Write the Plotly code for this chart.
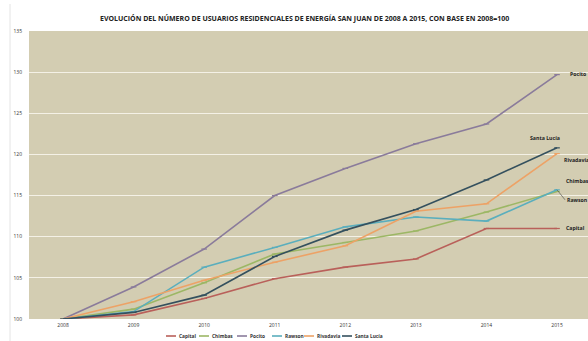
import plotly.graph_objects as go

years = ["2008", "2009", "2010", "2011", "2012", "2013", "2014", "2015"]
capital = [100, 100.5, 102.5, 104.9, 106.3, 107.3, 111.0, 111.0]
chimbas = [100, 101.2, 104.4, 107.9, 109.3, 110.7, 113.0, 115.5]
pocito = [100, 103.9, 108.5, 115.0, 118.3, 121.3, 123.7, 129.7]
rawson = [100, 100.9, 106.3, 108.7, 111.2, 112.4, 111.9, 115.7]
rivadavia = [100, 102.1, 104.7, 106.9, 108.9, 113.1, 114.0, 120.1]
santa_lucia = [100, 100.8, 102.9, 107.6, 110.8, 113.3, 116.9, 120.8]

names = ["Capital", "Chimbas", "Pocito", "Rawson", "Rivadavia", "Santa Lucía"]
series = [capital, chimbas, pocito, rawson, rivadavia, santa_lucia]
colors = ["#b9605a", "#9cb765", "#8a7b9b", "#5aaebd", "#eda266", "#34505e"]

W, H = 588, 341
ML, MR, MT, MB = 29, 0, 31, 22

fig = go.Figure()
for n, s, c in zip(names, series, colors):
    fig.add_trace(go.Scatter(
        x=years, y=s, name=n, mode="lines+markers",
        line=dict(color=c, width=1.6),
        marker=dict(symbol="line-ew", size=4, line=dict(color=c, width=1.2)),
        showlegend=False,
    ))

lab_font = dict(family="Open Sans", size=5.2, color="#222222")
li = len(years) - 1
fig.add_annotation(x=li, y=pocito[-1], text="<b>Pocito</b>", showarrow=False,
                   xanchor="left", xshift=11, yshift=1, font=lab_font)
fig.add_annotation(x=li, y=santa_lucia[-1], text="<b>Santa Lucía</b>", showarrow=False,
                   xanchor="center", xshift=-12, yshift=10, font=lab_font)
fig.add_annotation(x=li, y=rivadavia[-1], text="<b>Rivadavia</b>", showarrow=False,
                   xanchor="left", xshift=5, yshift=-6, font=lab_font)
fig.add_annotation(x=li, y=chimbas[-1], text="<b>Chimbas</b>", showarrow=False,
                   xanchor="left", xshift=7, yshift=10, font=lab_font)
fig.add_annotation(x=li, y=rawson[-1], text="<b>Rawson</b>", showarrow=True,
                   arrowhead=0, arrowwidth=0.6, arrowcolor="#444", ax=8, ay=10,
                   xanchor="left", font=lab_font)
fig.add_annotation(x=li, y=capital[-1], text="<b>Capital</b>", showarrow=False,
                   xanchor="left", xshift=7, font=lab_font)

# custom compact legend (bottom)
leg_x = [166, 199, 237, 272, 304, 342]  # pixel left of each sample line
leg_y = 336
ph = H - MT - MB
pw = W - ML - MR
def px2paper_x(px):
    return (px - ML) / pw
def px2paper_y(py):
    return (H - MB - py) / ph
for n, c, lx in zip(names, colors, leg_x):
    fig.add_shape(type="line", xref="paper", yref="paper",
                  x0=px2paper_x(lx), x1=px2paper_x(lx + 10),
                  y0=px2paper_y(leg_y), y1=px2paper_y(leg_y),
                  line=dict(color=c, width=1.6))
    fig.add_annotation(xref="paper", yref="paper", x=px2paper_x(lx + 11), y=px2paper_y(leg_y),
                       text="<b>" + n + "</b>", showarrow=False, xanchor="left", yanchor="middle",
                       font=dict(family="Open Sans", size=4.8, color="#333"))

# faint chart frame line at left
fig.add_shape(type="line", xref="paper", yref="paper",
              x0=px2paper_x(10), x1=px2paper_x(10), y0=px2paper_y(4), y1=px2paper_y(341),
              line=dict(color="#e4e4e4", width=1))

fig.update_layout(
    width=W, height=H,
    margin=dict(l=ML, r=MR, t=MT, b=MB, autoexpand=False),
    paper_bgcolor="white",
    plot_bgcolor="#d3cdb2",
    title=dict(text="<b>EVOLUCIÓN DEL NÚMERO DE USUARIOS RESIDENCIALES DE ENERGÍA SAN JUAN DE 2008 A 2015, CON BASE EN 2008=100</b>",
               x=0.518, xanchor="center", y=1 - 18.5 / H, yanchor="middle",
               font=dict(family="Open Sans", size=7, color="#222222")),
    showlegend=False,
    xaxis=dict(type="category", range=[-0.482, 7.439], showgrid=False, zeroline=False,
               showline=False, ticks="", ticklabelstandoff=2,
               tickfont=dict(family="Open Sans", size=5, color="#333")),
    yaxis=dict(range=[100, 135], dtick=5, showgrid=True, gridcolor="#f4f1e6", gridwidth=1.2,
               zeroline=False, showline=False, ticklabelstandoff=6,
               tickfont=dict(family="Open Sans", size=5, color="#333")),
)

fig.write_html("out.html", config={"displayModeBar": False, "staticPlot": True},
               post_script="document.body.style.margin='0px';document.body.style.overflow='hidden';")
